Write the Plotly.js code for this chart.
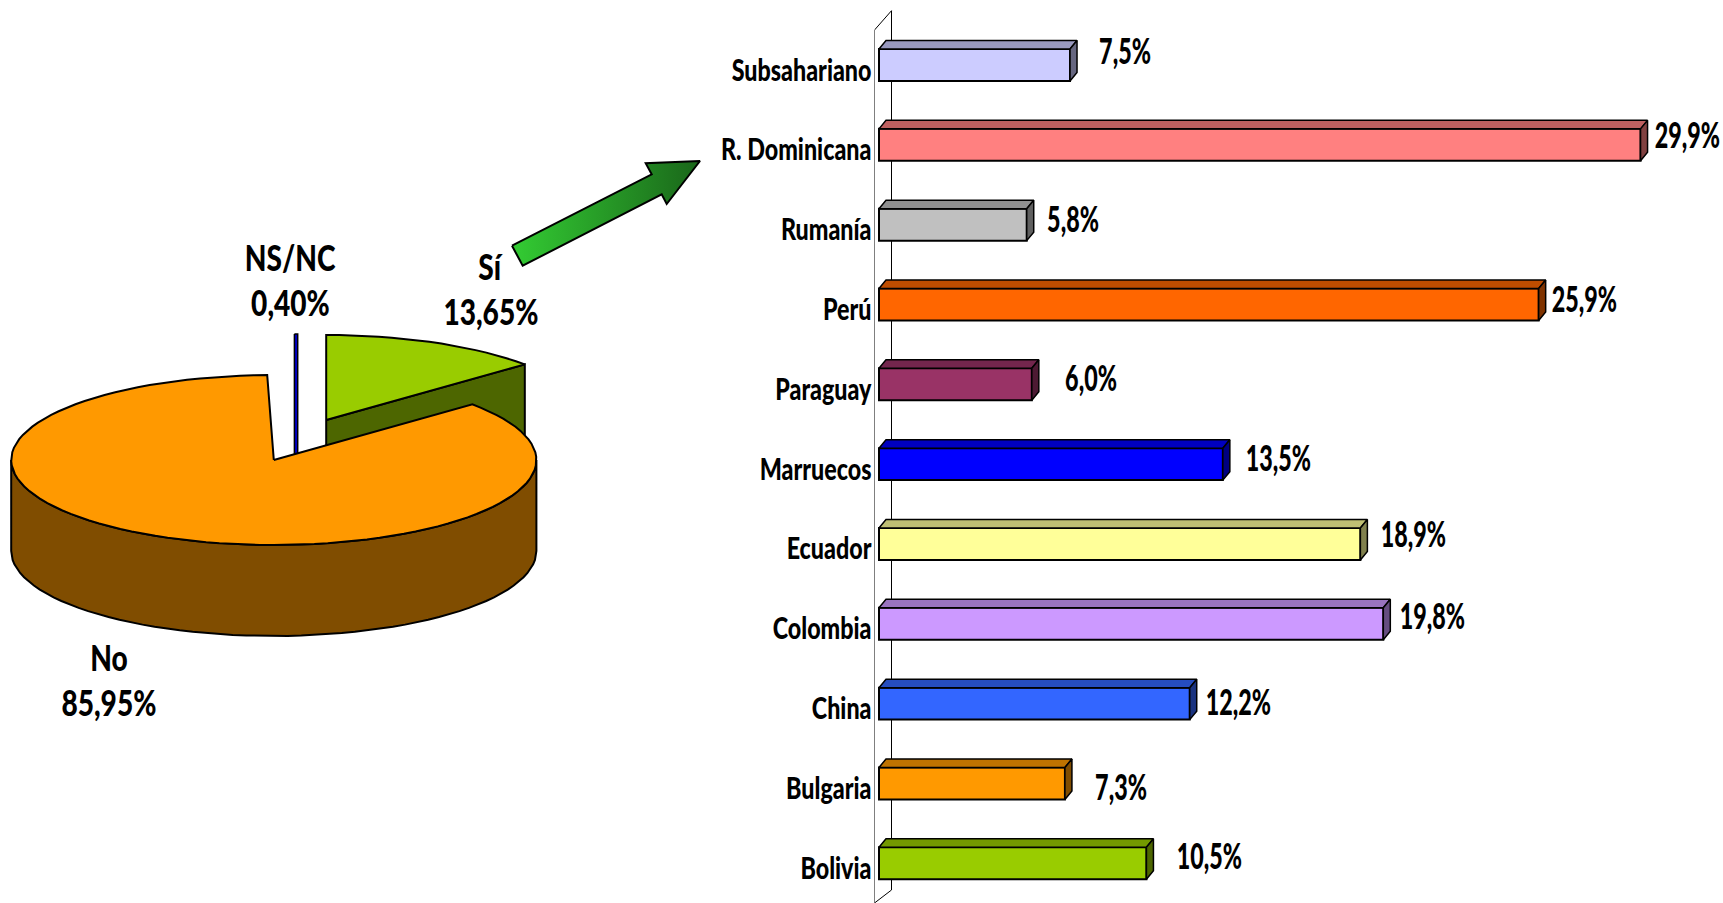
<!DOCTYPE html>
<html><head><meta charset="utf-8">
<style>html,body{margin:0;padding:0;background:#fff;overflow:hidden}#c{width:1723px;height:903px}</style>
<script src="https://cdn.plot.ly/plotly-3.0.1.min.js"></script>
</head><body><div id="c"></div>
<script>
// ---- data ----
const categories = ['Bolivia','Bulgaria','China','Colombia','Ecuador','Marruecos','Paraguay','Perú','Rumanía','R. Dominicana','Subsahariano'];
const percentages = [10.5,7.3,12.2,19.8,18.9,13.5,6.0,25.9,5.8,29.9,7.5];
const pieLabels = ['Sí','No','NS/NC'];
const pieShares = [13.65,85.95,0.40];
// ---- styles ----
const barColors = ['#99CC00','#FF9900','#3366FF','#CC99FF','#FFFF99','#0000FF','#993366','#FF6600','#C0C0C0','#FF8080','#CCCCFF'];
const labelShiftX = [62.6,56,49,49,53,56,59,46,46,47,55];
const labelShiftY = [8.3,-2.5,3,9,11,7,7,6.6,7,11,15];
const FONT = 'Lato, sans-serif';
const W=1723,H=903;

function shade(hex,k){const n=parseInt(hex.slice(1),16);const c=[n>>16,(n>>8)&255,n&255].map(v=>Math.round(v*k));return `rgb(${c.join(',')})`;}

// ---- bar scale set up ----
const pxPerUnit=25.47, zeroPx=879, wallPx=874.5;
const xRange=[(wallPx-zeroPx)/pxPerUnit,(W-zeroPx)/pxPerUnit];
const pxPerCat=79.83, cat0Px=863.3;
const yRange=[(cat0Px-H)/pxPerCat,cat0Px/pxPerCat];
const barW=0.40, dX=7/pxPerUnit, dY=8.5/pxPerCat;
const idx=categories.map((_,i)=>i);
const traces=[];
traces.push({type:'bar',orientation:'h',x:percentages,y:idx,width:barW,
  marker:{color:barColors,line:{color:'#000',width:2}},hoverinfo:'x+y',showlegend:false});
idx.forEach(i=>{
  const v=percentages[i],t=i+barW/2,b=i-barW/2;
  traces.push({type:'scatter',mode:'lines',fill:'toself',fillcolor:shade(barColors[i],.75),
    x:[0,dX,v+dX,v,0],y:[t,t+dY,t+dY,t,t],line:{color:'#000',width:1.5},hoverinfo:'skip',showlegend:false});
  traces.push({type:'scatter',mode:'lines',fill:'toself',fillcolor:shade(barColors[i],.5),
    x:[v,v+dX,v+dX,v,v],y:[t,t+dY,b+dY,b,t],line:{color:'#000',width:1.5},hoverinfo:'skip',showlegend:false});
});

// ---- pseudo-3D pie, angles from the shares ----
const A=262.6,B=85,depth=91/85,cx=273.8,cy=460;
const xR2=[-cx/A,(wallPx-cx)/A], yR2=[(cy-H)/B,cy/B];
const deg=pieShares.map(s=>s*3.6);
const pt=(th,ox,oy)=>[ox+Math.sin(th*Math.PI/180),oy+Math.cos(th*Math.PI/180)];
function arc(a0,a1,ox,oy){const o=[];const n=Math.max(2,Math.ceil(Math.abs(a1-a0)/3));for(let i=0;i<=n;i++)o.push(pt(a0+(a1-a0)*i/n,ox,oy));return o;}
function poly(pts,fill,lw){traces.push({type:'scatter',mode:'lines',xaxis:'x2',yaxis:'y2',fill:'toself',fillcolor:fill,
  x:pts.map(p=>p[0]),y:pts.map(p=>p[1]),line:{color:'#000',width:lw||2},hoverinfo:'skip',showlegend:false});}
// Sí slice, exploded
const siOff=[(326.2-cx)/A,(cy-420)/B];
const siTip=pt(deg[0],siOff[0],siOff[1]);
poly([siOff,siTip,[siTip[0],siTip[1]-depth],[siOff[0],siOff[1]-depth],siOff],'#4D6600');
poly([siOff,...arc(0,deg[0],siOff[0],siOff[1]),siOff],'#99CC00');
// NS/NC slice, exploded: seen edge on, as a ribbon
const nsOff=[(297.7-cx)/A,(cy-419)/B];
const nsL=pt(-deg[2]/2,nsOff[0],nsOff[1]), nsR=pt(0,nsOff[0],nsOff[1]);
poly([nsL,nsR,[nsR[0],nsOff[1]-0.6],[nsL[0],nsOff[1]-0.6],nsL],'#0000CC',1.5);
// No slice
const sideTop=arc(90,270,0,0);
poly([...sideTop,...arc(270,90,0,-depth),sideTop[0]],'#804D00');
poly([[0,0],...arc(deg[0],deg[0]+deg[1],0,0),[0,0]],'#FF9900');

// ---- arrow from the pie to the bars ----
const arrowPxX=[512,522.7,661.7,666.7,700,645.7,651.7,512];
const arrowPxY=[245.7,265.7,194.3,204,161,163.3,174.3,245.7];
traces.push({type:'scatter',mode:'lines',xaxis:'x2',yaxis:'y2',fill:'toself',
  fillgradient:{type:'horizontal',colorscale:[[0,'#33CC33'],[1,'#1A661A']]},
  x:arrowPxX.map(p=>(p-cx)/A),y:arrowPxY.map(p=>(cy-p)/B),line:{color:'#000',width:2},hoverinfo:'skip',showlegend:false});

// ---- text ----
const big={family:FONT,size:36,color:'#000',weight:900};
const anns=idx.map(i=>({xref:'x',yref:'y',x:percentages[i],y:i,xanchor:'center',yanchor:'middle',
  xshift:labelShiftX[i],yshift:labelShiftY[i],showarrow:false,font:big,
  text:percentages[i].toFixed(1).replace('.',',')+'%'}));
const pieLabelPx=[[491,266],[109,657],[290,257]];
pieLabels.forEach((l,i)=>{
  const [x,y]=pieLabelPx[i];
  anns.push({xref:'paper',yref:'paper',x:x/W,y:1-y/H,xanchor:'center',yanchor:'middle',showarrow:false,font:big,text:l});
  anns.push({xref:'paper',yref:'paper',x:x/W,y:1-(y+45)/H,xanchor:'center',yanchor:'middle',showarrow:false,font:big,
    text:pieShares[i].toFixed(2).replace('.',',')+'%'});
});

// ---- wall behind the bars ----
const backX=(891.5-zeroPx)/pxPerUnit, wallTopF=(cat0Px-30)/pxPerCat, backTop=(cat0Px-10.7)/pxPerCat, backBot=(cat0Px-890)/pxPerCat, frontBot=(cat0Px-903)/pxPerCat;
const wall=[[xRange[0],wallTopF,xRange[0],frontBot],[backX,backTop,backX,backBot],[xRange[0],wallTopF,backX,backTop],[xRange[0],frontBot,backX,backBot]]
 .map(s=>({type:'line',layer:'below',xref:'x',yref:'y',x0:s[0],y0:s[1],x1:s[2],y1:s[3],line:{color:'#000',width:1}}));

const layout={width:W,height:H,margin:{l:0,r:0,t:0,b:0},paper_bgcolor:'#fff',plot_bgcolor:'rgba(0,0,0,0)',showlegend:false,
  xaxis:{domain:[wallPx/W,1],range:xRange,visible:false,fixedrange:true},
  yaxis:{domain:[0,1],range:yRange,tickmode:'array',tickvals:idx,ticktext:categories,ticks:'',ticklabelshift:5,ticklabelstandoff:2,
    showgrid:false,zeroline:false,showline:false,fixedrange:true,tickfont:{family:FONT,size:30,color:'#000',weight:900}},
  xaxis2:{domain:[0,wallPx/W],range:xR2,visible:false,anchor:'y2',fixedrange:true},
  yaxis2:{domain:[0,1],range:yR2,visible:false,anchor:'x2',fixedrange:true},
  annotations:anns,shapes:wall};

Plotly.newPlot('c',traces,layout,{displayModeBar:false,staticPlot:true}).then(()=>{
  const squeeze=(el,k)=>{
    el.setAttribute('textLength',(el.getComputedTextLength()*k).toFixed(1));
    el.setAttribute('lengthAdjust','spacingAndGlyphs');};
  document.querySelectorAll('.annotation-text').forEach((el,i)=>squeeze(el,i<categories.length?0.647:0.78));
  document.querySelectorAll('.ytick text').forEach(el=>squeeze(el,0.776));
});
</script></body></html>
